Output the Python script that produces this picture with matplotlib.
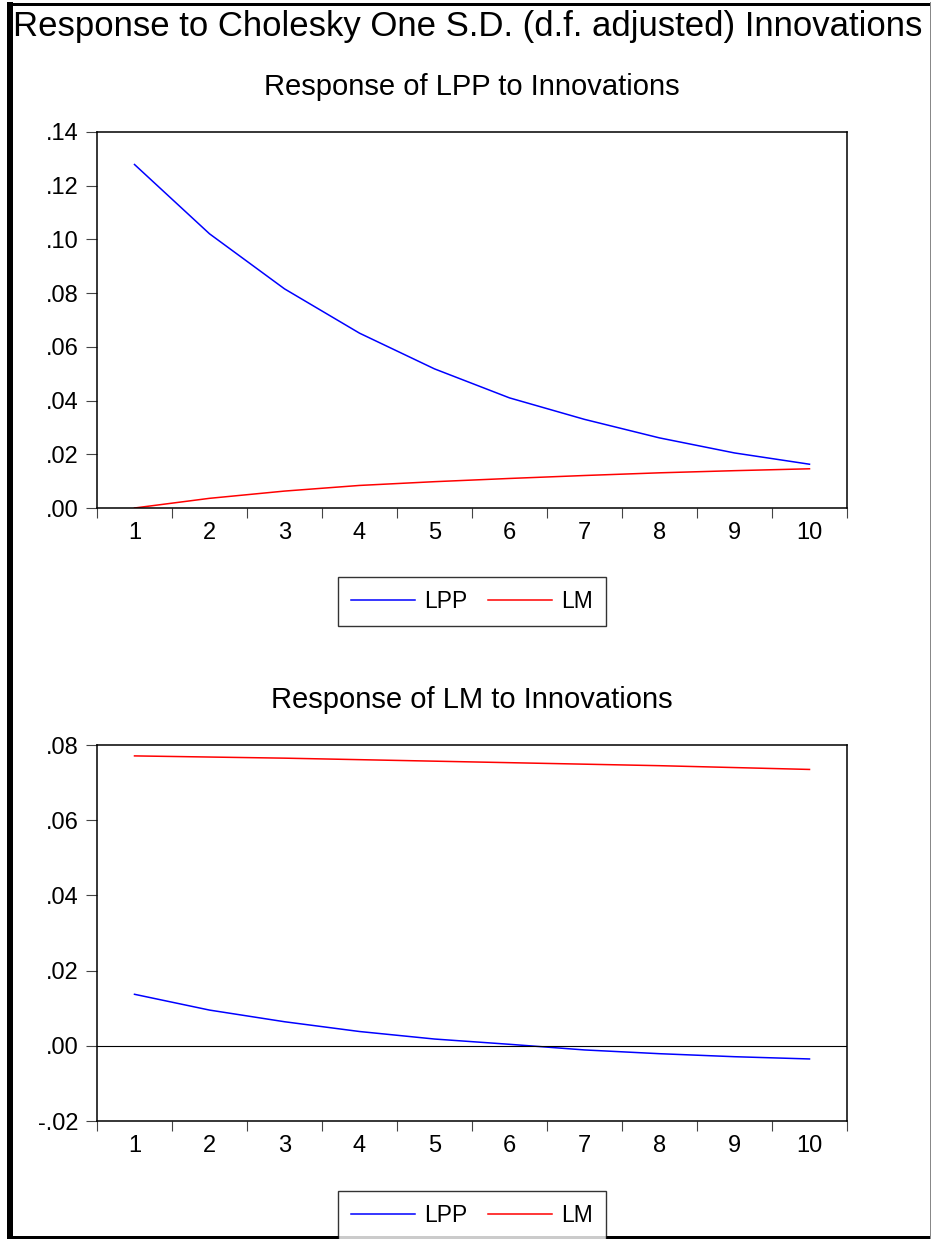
import matplotlib
matplotlib.use("Agg")
import matplotlib.pyplot as plt
from matplotlib.ticker import FuncFormatter
from matplotlib.patches import Rectangle
from matplotlib.lines import Line2D
import numpy as np

plt.rcParams['font.family'] = ['Liberation Sans', 'DejaVu Sans']

# impulse responses, periods 1..10
periods = list(range(1, 11))
lpp_lpp = [0.1279, 0.1021, 0.0816, 0.0651, 0.0518, 0.0410, 0.0330, 0.0261, 0.0205, 0.0163]
lpp_lm = [0.0000, 0.0036, 0.0063, 0.0084, 0.0098, 0.0110, 0.0121, 0.0131, 0.0139, 0.0146]
lm_lpp = [0.0137, 0.0095, 0.0064, 0.0038, 0.0018, 0.0004, -0.0011, -0.0021, -0.0029, -0.0035]
lm_lm = [0.0771, 0.0768, 0.0765, 0.0761, 0.0757, 0.0753, 0.0749, 0.0745, 0.0740, 0.0735]

main_title = "Response to Cholesky One S.D. (d.f. adjusted) Innovations"
titles = ["Response of LPP to Innovations", "Response of LM to Innovations"]
series_names = ["LPP", "LM"]
colors = ["#0000ff", "#ff0000"]

W, H = 932, 1239
fig = plt.figure(figsize=(W / 100, H / 100), dpi=100)


def box(l, t, r, b):
    return [l / W, 1 - b / H, (r - l) / W, (b - t) / H]


def fmt(v, pos):
    s = "%.2f" % v
    return s.replace("0.", ".")


ax1 = fig.add_axes(box(97, 132, 847, 508))
ax2 = fig.add_axes(box(97, 745, 847, 1121))

tick_fs = 17
panels = [(ax1, lpp_lpp, lpp_lm, (0.0, 0.14)), (ax2, lm_lpp, lm_lm, (-0.02, 0.08))]
for ax, a, b, ylim in panels:
    ax.plot(periods, a, color=colors[0], lw=1.1)
    ax.plot(periods, b, color=colors[1], lw=1.1)
    ax.set_xlim(0.5, 10.5)
    ax.set_ylim(*ylim)
    ax.set_yticks(np.arange(ylim[0], ylim[1] + 0.001, 0.02))
    ax.yaxis.set_major_formatter(FuncFormatter(fmt))
    ax.set_xticks(periods)
    ax.set_xticks(np.arange(0.5, 11, 1), minor=True)
    ax.tick_params(axis='x', which='major', length=0, pad=10, labelsize=tick_fs)
    ax.tick_params(axis='x', which='minor', length=7.5, width=0.8, color='#444444')
    ax.tick_params(axis='y', length=8, width=0.8, pad=5, color='#444444', labelsize=tick_fs)
    for sp in ax.spines.values():
        sp.set_linewidth(1.1)
        sp.set_color('black')

ax2.axhline(0, color='black', lw=0.8)

# titles
fig.text(13 / W, 1 - 36 / H, main_title, fontsize=25, va='baseline', ha='left')
fig.text(472 / W, 1 - 95 / H, titles[0], fontsize=21, va='baseline', ha='center')
fig.text(472 / W, 1 - 708 / H, titles[1], fontsize=21, va='baseline', ha='center')

# legends
for ax, cy in [(ax1, 601.5), (ax2, 1215.5)]:
    handles = [Line2D([], [], color=c, lw=1.1) for c in colors]
    leg = fig.legend(handles, series_names, loc='center', bbox_to_anchor=(472 / W, 1 - cy / H),
                     ncol=2, fontsize=16.5, handlelength=2.8, handletextpad=0.4,
                     columnspacing=0.9, borderpad=0.55, fancybox=False, frameon=True)
    leg.get_frame().set_edgecolor('black')
    leg.get_frame().set_linewidth(1.0)

# outer frame
fig.add_artist(Rectangle((7 / W, 0), 6 / W, 1 - 2 / H, transform=fig.transFigure, color='black', lw=0))
fig.add_artist(Rectangle((7 / W, 1 - 6 / H), 923 / W, 3 / H, transform=fig.transFigure, color='black', lw=0))
fig.add_artist(Rectangle((7 / W, 0), 923 / W, 3 / H, transform=fig.transFigure, color='black', lw=0))
fig.add_artist(Rectangle((930 / W, 0), 1.2 / W, 1 - 2 / H, transform=fig.transFigure, color='#888888', lw=0))

fig.savefig("out.png", dpi=100)
